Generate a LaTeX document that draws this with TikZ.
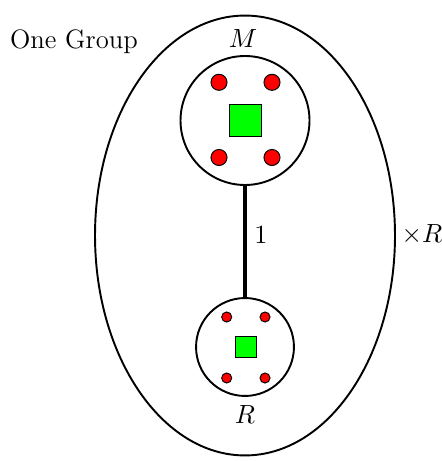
\documentclass[tikz,border=0pt]{standalone}
\usetikzlibrary{shapes.geometric}
\begin{document}
\begin{tikzpicture}[x=0.4167pt,y=-0.4167pt,
  every node/.style={font=\fontsize{11.1}{13}\selectfont},
  bigring/.style={circle,draw,line width=0.8pt,inner sep=0pt},
  bigdot/.style={circle,draw,fill=red,line width=0.4pt,inner sep=0pt,minimum size=6.7pt},
  smalldot/.style={circle,draw,fill=red,line width=0.4pt,inner sep=0pt,minimum size=4.2pt},
  bigsq/.style={rectangle,draw,fill=green,line width=0.4pt,inner sep=0pt,minimum size=13.3pt},
  smallsq/.style={rectangle,draw,fill=green,line width=0.4pt,inner sep=0pt,minimum size=8.75pt}]
\useasboundingbox (0,0) rectangle (442,461);
\node[ellipse,draw,line width=0.8pt,inner sep=0pt,minimum width=125pt,minimum height=183.3pt] (grp) at (245,235.5) {};
\node[bigring,minimum size=53.75pt] (M) at (245,120.5) {};
\node[bigring,minimum size=40.8pt] (R) at (245,347) {};
\node[bigdot] (m1) at (219,82.3) {};
\node[bigdot] (m2) at (272,82.3) {};
\node[bigdot] (m3) at (219,157.5) {};
\node[bigdot] (m4) at (272,157.5) {};
\node[bigsq] (ms) at (245.5,120.5) {};
\node[smalldot] (r1) at (226.7,317) {};
\node[smalldot] (r2) at (265,317) {};
\node[smalldot] (r3) at (226.7,378) {};
\node[smalldot] (r4) at (265,378) {};
\node[smallsq] (rs) at (245.5,347) {};
\draw[line width=1.3pt] (M.south) -- (R.north);
\node (one1) at (261,235) {$1$};
\node (ml) at (243,39) {$M$};
\node (rl) at (245,415) {$R$};
\node (one) at (74,42) {One Group};
\node (xr) at (422,235) {$\times R$};
\end{tikzpicture}
\end{document}
